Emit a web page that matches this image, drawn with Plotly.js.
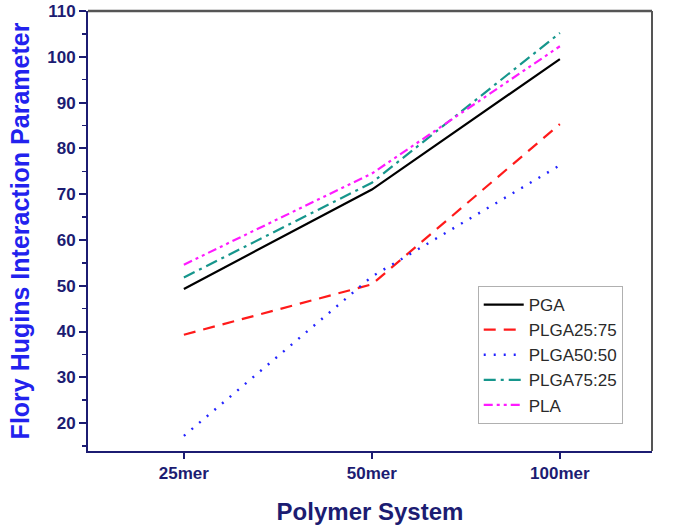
<!DOCTYPE html>
<html><head><meta charset="utf-8">
<script src="https://cdn.plot.ly/plotly-3.0.1.min.js"></script>
<style>html,body{margin:0;padding:0;background:#fff;}#chart{width:685px;height:529px;}</style>
</head><body><div id="chart"></div>
<script>
const categories = ["25mer", "50mer", "100mer"];
const seriesNames = ["PGA", "PLGA25:75", "PLGA50:50", "PLGA75:25", "PLA"];
const PGA = [49.3, 71, 99.5];
const PLGA25_75 = [39.3, 50.3, 85.3];
const PLGA50_50 = [17.2, 52, 76.3];
const PLGA75_25 = [51.8, 72.5, 105.2];
const PLA = [54.6, 74.5, 102.3];

const seriesValues = [PGA, PLGA25_75, PLGA50_50, PLGA75_25, PLA];
const styles = [
  {color: "#000000", dash: "solid", width: 2.2},
  {color: "#ff1a1a", dash: "12px,8px", width: 2.2},
  {color: "#2424ff", dash: "2px,8px", width: 2.4},
  {color: "#16968c", dash: "12px,5px,3px,5px", width: 2.2},
  {color: "#ff1aff", dash: "9px,4px,3px,4px,3px,4px", width: 2.2}
];
const navy = "#1c1c72";
const traces = seriesNames.map((n, i) => ({
  x: categories, y: seriesValues[i], name: n, type: "scatter", mode: "lines",
  line: {color: styles[i].color, dash: styles[i].dash, width: styles[i].width}
}));
const layout = {
  width: 685, height: 529,
  margin: {l: 88, r: 33, t: 11, b: 78},
  paper_bgcolor: "#fff", plot_bgcolor: "#fff",
  font: {family: "Liberation Sans, Arial, sans-serif"},
  showlegend: true,
  legend: {x: 0.691, y: 0.375, xanchor: "left", yanchor: "top",
    bgcolor: "rgba(255,255,255,1)", bordercolor: "#b0b0b0", borderwidth: 1,
    font: {size: 17, color: "#2a2a2a"}, tracegroupgap: 0, itemwidth: 40},
  xaxis: {
    type: "category", range: [-0.51, 2.49],
    showgrid: false, zeroline: false,
    showline: true, linecolor: navy, linewidth: 2, mirror: false,
    ticks: "outside", ticklen: 6, tickwidth: 2, tickcolor: navy,
    tickfont: {size: 17, color: navy, weight: "bold"},
    title: {text: "<b>Polymer System</b>", font: {size: 24, color: navy}, standoff: 21}
  },
  yaxis: {
    range: [13.9, 110], dtick: 10, tick0: 0,
    showgrid: false, zeroline: false,
    showline: true, linecolor: navy, linewidth: 2, mirror: false,
    ticks: "outside", ticklen: 7, tickwidth: 2, tickcolor: navy,
    minor: {dtick: 5, ticks: "outside", ticklen: 4, tickwidth: 1.5, tickcolor: navy, showgrid: false},
    tickfont: {size: 17, color: navy, weight: "bold"},
    title: {text: "<b>Flory Hugins Interaction Parameter</b>", font: {size: 25, color: "#2222ee"}, standoff: 10}
  },
  shapes: [
    {type: "line", xref: "paper", yref: "paper", x0: 0, x1: 1, y0: 1, y1: 1, line: {color: "#555555", width: 2.5}},
    {type: "line", xref: "paper", yref: "paper", x0: 1, x1: 1, y0: 0, y1: 1, line: {color: "#555555", width: 2}}
  ]
};
Plotly.newPlot("chart", traces, layout, {displayModeBar: false, staticPlot: true});
</script></body></html>
